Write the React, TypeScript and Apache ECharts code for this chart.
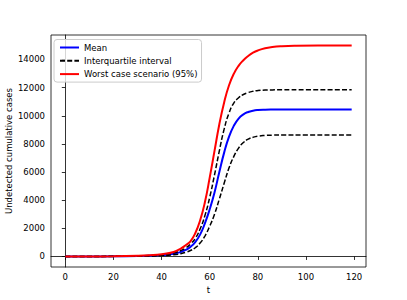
import React, { useEffect, useRef } from "react";
import * as echarts from "echarts";

const tRed = [0, 10, 20, 30, 35, 40, 45, 48, 50, 52, 54, 56, 58, 60, 62, 64, 66, 68, 70, 72, 74, 76, 78, 80, 83, 86, 90, 96, 105, 119];
const worstCase = [0, 3, 12, 45, 85, 160, 320, 560, 800, 1080, 1650, 2550, 3850, 5600, 7500, 9400, 10950, 12150, 12980, 13550, 13950, 14250, 14480, 14640, 14800, 14885, 14940, 14975, 14990, 14990];

const tStd = [0, 10, 20, 30, 35, 40, 45, 48, 50, 52, 54, 56, 58, 60, 62, 64, 66, 68, 70, 72, 74, 76, 78, 80, 83, 86, 90, 100, 119];
const meanCases = [0, 2, 8, 28, 52, 95, 190, 320, 460, 680, 1020, 1550, 2350, 3350, 4550, 6000, 7380, 8500, 9280, 9800, 10100, 10270, 10360, 10405, 10430, 10438, 10440, 10440, 10440];
const upperQuartile = [0, 2, 10, 35, 65, 120, 250, 420, 600, 880, 1280, 1950, 2900, 4200, 5800, 7500, 9050, 10180, 10900, 11280, 11510, 11650, 11740, 11790, 11825, 11838, 11845, 11845, 11845];
const lowerQuartile = [0, 1, 5, 18, 32, 60, 120, 200, 290, 420, 620, 950, 1450, 2150, 3000, 4080, 5200, 6280, 7100, 7700, 8100, 8340, 8470, 8550, 8600, 8622, 8635, 8640, 8640];

const xTicks = [0, 20, 40, 60, 80, 100, 120];
const yTicks = [0, 2000, 4000, 6000, 8000, 10000, 12000, 14000];

const pair = (ts: number[], vs: number[]) => ts.map((t, i) => [t, vs[i]]);

const FONT = "DejaVu Sans";

export default function App() {
  const ref = useRef<HTMLDivElement>(null);
  useEffect(() => {
    if (!ref.current) return;
    const chart = echarts.init(ref.current, null, { renderer: "svg" });
    const dashed = { color: "#000", width: 1.5, type: [5, 2.2] as any };
    const lineBase = {
      type: "line",
      showSymbol: false,
      symbol: "none",
      smooth: 0.5,
    };
    chart.setOption({
      animation: false,
      backgroundColor: "#fff",
      textStyle: { fontFamily: FONT },
      grid: {
        left: 51,
        top: 35,
        width: 315,
        height: 232,
        show: true,
        borderColor: "#000",
        borderWidth: 0.8,
        containLabel: false,
        outerBoundsMode: "none",
      },
      legend: {
        orient: "vertical",
        left: 54,
        top: 39.5,
        padding: [3, 4, 3, 5],
        itemWidth: 19,
        itemHeight: 8,
        itemGap: 3.3,
        borderColor: "#cccccc",
        borderWidth: 1,
        borderRadius: 3,
        backgroundColor: "rgba(255,255,255,0.8)",
        itemStyle: { opacity: 0, color: "transparent", borderWidth: 0 },
        data: ["Mean", "Interquartile interval", "Worst case scenario (95%)"],
        textStyle: { fontFamily: FONT, fontSize: 8.5, color: "#000", lineHeight: 10 },
      },
      xAxis: {
        type: "value",
        min: -5.95,
        max: 124.95,
        name: "t",
        nameLocation: "middle",
        nameGap: 18,
        nameMoveOverlap: false,
        nameTextStyle: { fontFamily: FONT, fontSize: 8.5, color: "#000" },
        splitLine: { show: false },
        axisLine: { show: true, lineStyle: { color: "#000", width: 0.8 } },
        axisTick: { show: true, length: 3.5, customValues: xTicks, lineStyle: { color: "#000", width: 0.8 } },
        axisLabel: {
          customValues: xTicks,
          margin: 5,
          fontFamily: FONT,
          fontSize: 8.5,
          color: "#000",
          formatter: (v: number) => String(v),
        },
      },
      yAxis: {
        type: "value",
        min: -749.5,
        max: 15739.5,
        name: "Undetected cumulative cases",
        nameLocation: "middle",
        nameGap: 38,
        nameMoveOverlap: false,
        nameTextStyle: { fontFamily: FONT, fontSize: 8.5, color: "#000" },
        splitLine: { show: false },
        axisLine: { show: true, lineStyle: { color: "#000", width: 0.8 } },
        axisTick: { show: true, length: 3.5, customValues: yTicks, lineStyle: { color: "#000", width: 0.8 } },
        axisLabel: {
          customValues: yTicks,
          margin: 6,
          fontFamily: FONT,
          fontSize: 8.5,
          color: "#000",
          formatter: (v: number) => String(v),
        },
      },
      series: [
        {
          ...lineBase,
          name: "Mean",
          data: pair(tStd, meanCases),
          lineStyle: { color: "#0000ff", width: 2 },
          itemStyle: { color: "#0000ff" },
        },
        {
          ...lineBase,
          name: "Interquartile interval",
          data: pair(tStd, upperQuartile),
          lineStyle: dashed,
          itemStyle: { color: "#000" },
        },
        {
          ...lineBase,
          name: "Interquartile interval",
          data: pair(tStd, lowerQuartile),
          lineStyle: dashed,
          itemStyle: { color: "#000" },
        },
        {
          ...lineBase,
          name: "Worst case scenario (95%)",
          data: pair(tRed, worstCase),
          lineStyle: { color: "#ff0000", width: 2 },
          itemStyle: { color: "#ff0000" },
        },
      ],
    });
    return () => chart.dispose();
  }, []);
  return (
    <div
      ref={ref}
      style={{ position: "fixed", left: 0, top: 0, width: 407, height: 300, background: "#fff" }}
    />
  );
}
